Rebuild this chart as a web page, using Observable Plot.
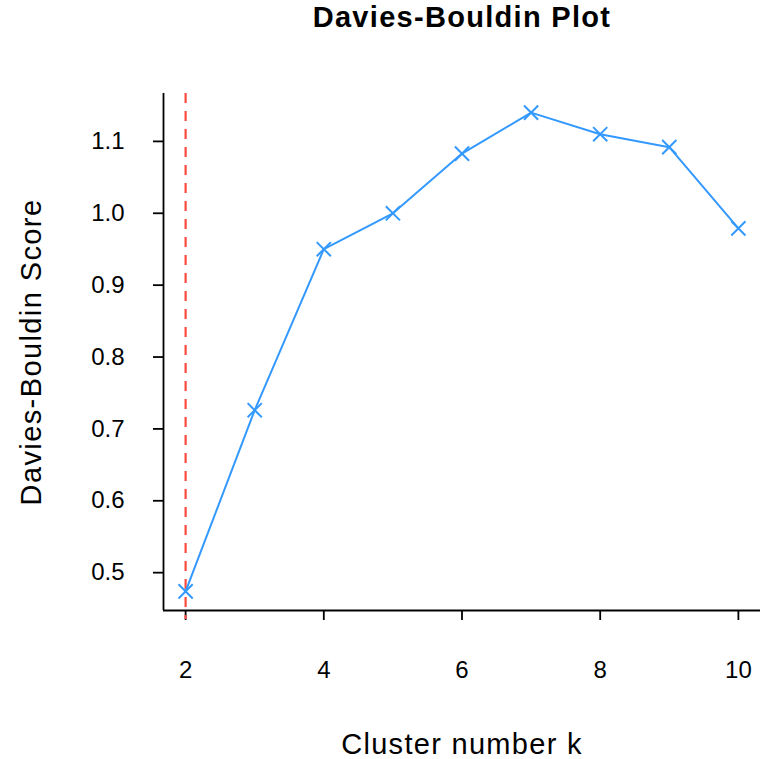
<!DOCTYPE html>
<html>
<head>
<meta charset="utf-8">
<script src="https://cdn.jsdelivr.net/npm/d3@7"></script>
<script src="https://cdn.jsdelivr.net/npm/@observablehq/plot@0.6"></script>
<style>
  body { margin: 0; background: #fff; font-family: "Liberation Sans", Arial, sans-serif; }
  #wrap { width: 763px; height: 759px; position: relative; }
  #title { height: 38px; line-height: 34px; font-size: 29px; font-weight: bold; color: #000;
           letter-spacing: 1.3px; box-sizing: border-box; padding-left: 161px; text-align: center; white-space: nowrap; }
  svg { display: block; }
</style>
</head>
<body>
<div id="wrap">
  <div id="title">Davies-Bouldin Plot</div>
  <div id="chart"></div>
</div>
<script>
const kValues = [2, 3, 4, 5, 6, 7, 8, 9, 10];
const dbScores = [0.474, 0.726, 0.950, 1.000, 1.083, 1.140, 1.110, 1.092, 0.979];
const xTicks = [2, 4, 6, 8, 10];
const yTicks = [0.5, 0.6, 0.7, 0.8, 0.9, 1.0, 1.1];
const optimalK = [2];
const xLabel = "Cluster number k";
const yLabel = "Davies-Bouldin Score";

const data = kValues.map((k, i) => ({k, score: dbScores[i]}));

function expand(ext) {
  const pad = (ext[1] - ext[0]) * 0.04;
  return [ext[0] - pad, ext[1] + pad];
}
const xDomain = expand(d3.extent(kValues));
const yDomain = expand(d3.extent(dbScores));

const blue = "#3399ff";
const red = "#ff4a3d";

const chart = Plot.plot({
  width: 763,
  height: 721,
  marginLeft: 163,
  marginRight: 3,
  marginTop: 55,
  marginBottom: 149,
  style: {fontFamily: "'Liberation Sans', Arial, sans-serif", color: "#000", background: "#fff"},
  x: {domain: xDomain},
  y: {domain: yDomain},
  marks: [
    Plot.ruleY([yDomain[0]], {stroke: "#000", strokeWidth: 1.8}),
    Plot.ruleX([xDomain[0]], {stroke: "#000", strokeWidth: 1.8}),
    Plot.axisX(xTicks, {tickSize: 10, tickPadding: 40, fontSize: 24, label: null, strokeWidth: 1.8}),
    Plot.axisY(yTicks, {tickSize: 10, tickPadding: 29, fontSize: 24, label: null, strokeWidth: 1.8,
      tickFormat: d3.format(".1f")}),
    Plot.ruleX(optimalK, {y1: yDomain[1], y2: yDomain[0], stroke: red, strokeWidth: 2.2,
      strokeDasharray: "10,8", insetBottom: -9}),
    Plot.line(data, {x: "k", y: "score", stroke: blue, strokeWidth: 2}),
    Plot.dot(data, {x: "k", y: "score", symbol: "times", r: 6.5, stroke: blue, strokeWidth: 2}),
    Plot.text([xLabel], {frameAnchor: "bottom", dy: 134, fontSize: 29, lineAnchor: "middle", textAnchor: "middle", fill: "#000"}),
    Plot.text([yLabel], {frameAnchor: "left", dx: -132, rotate: -90, fontSize: 29, lineAnchor: "middle", textAnchor: "middle", fill: "#000"})
  ]
});
chart.querySelectorAll("text").forEach(t => {
  if (t.textContent === xLabel) t.style.letterSpacing = "1.3px";
  if (t.textContent === yLabel) t.style.letterSpacing = "1.4px";
});
document.getElementById("chart").appendChild(chart);
</script>
</body>
</html>
